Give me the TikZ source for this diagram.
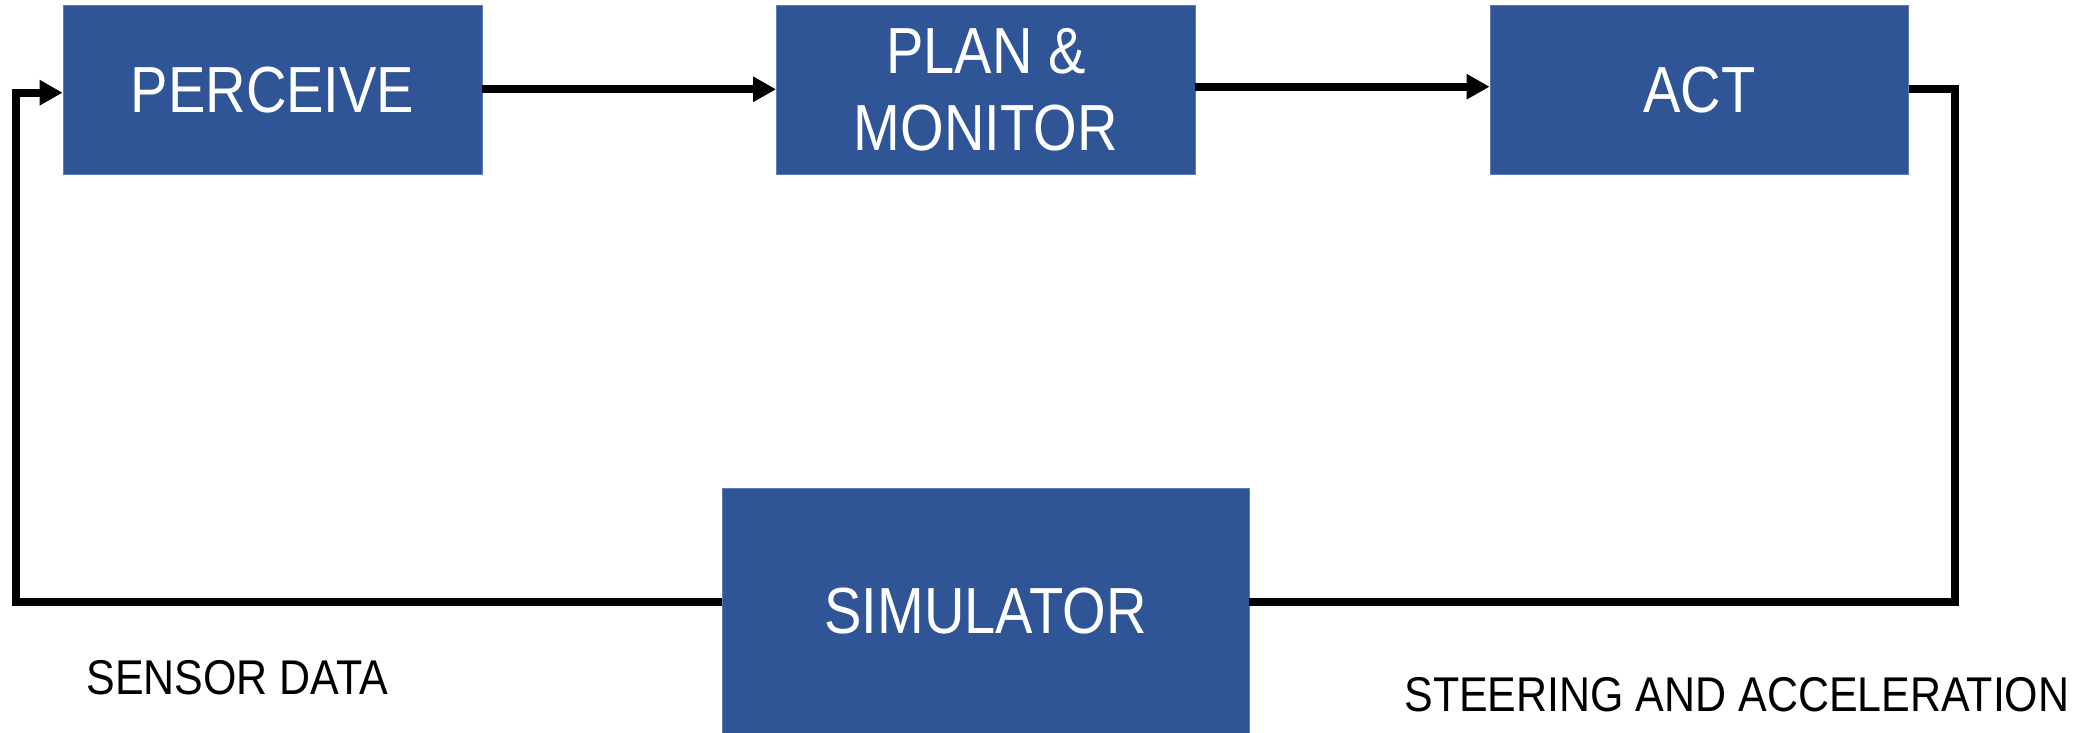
\documentclass[tikz,border=0pt]{standalone}
\usepackage{fontspec}
\setmainfont{Liberation Sans}[FakeStretch=0.86]
\newfontfamily\captionface{Liberation Sans}[FakeStretch=0.88]
\usetikzlibrary{arrows.meta}
\definecolor{boxblue}{RGB}{47,85,151}
\definecolor{boxedge}{RGB}{95,125,180}
\tikzset{
  blockbox/.style={rectangle, fill=boxblue, draw=boxedge, line width=0.4pt,
    text=white, inner sep=0pt, align=center,
    font=\fontsize{32.6}{38.8}\selectfont},
  wire/.style={line width=4pt, line join=miter},
  flow/.style={wire, -{Triangle[length=11.5pt,width=12pt]}},
  caption/.style={anchor=base west, inner sep=0pt, text=black,
    font=\captionface\fontsize{24.4}{29}\selectfont}
}
\begin{document}
\begin{tikzpicture}[x=0.5pt, y=-0.5pt]
  \useasboundingbox (0,0) rectangle (2095,733);

  % processing blocks
  \node[blockbox, minimum width=209.5pt, minimum height=84.35pt] (perceive) at (272.5,89.65) {PERCEIVE};
  \node[blockbox, minimum width=209.25pt, minimum height=84.35pt] (plan) at (985.75,89.65) {PLAN \&\\MONITOR};
  \node[blockbox, minimum width=209.35pt, minimum height=84.35pt] (act) at (1699.35,89.65) {ACT};
  \node[blockbox, minimum width=263.5pt, minimum height=122.15pt] (sim) at (985.5,610.85) {SIMULATOR};

  % routing points of the feedback loop
  \coordinate (lb) at (16,601.7);
  \coordinate (lt) at (16,92.7);
  \coordinate (rt) at (1955,89.3);
  \coordinate (rb) at (1955,601.7);

  % forward chain
  \draw[flow] (perceive.east |- 0,89.3) -- (plan.west |- 0,89.3);
  \draw[flow] (plan.east |- 0,86.7) -- (act.west |- 0,86.7);

  % loop through the simulator
  \draw[wire] (act.east |- rt) -- (rt) -- (rb) -- (sim.east |- rb);
  \draw[flow] (sim.west |- lb) -- (lb) -- (lt) -- (perceive.west |- lt);

  % signal captions
  \node[caption] (sensor) at (86,694) {SENSOR DATA};
  \node[caption] (steer) at (1404,711.7) {STEERING AND ACCELERATION};
\end{tikzpicture}
\end{document}
